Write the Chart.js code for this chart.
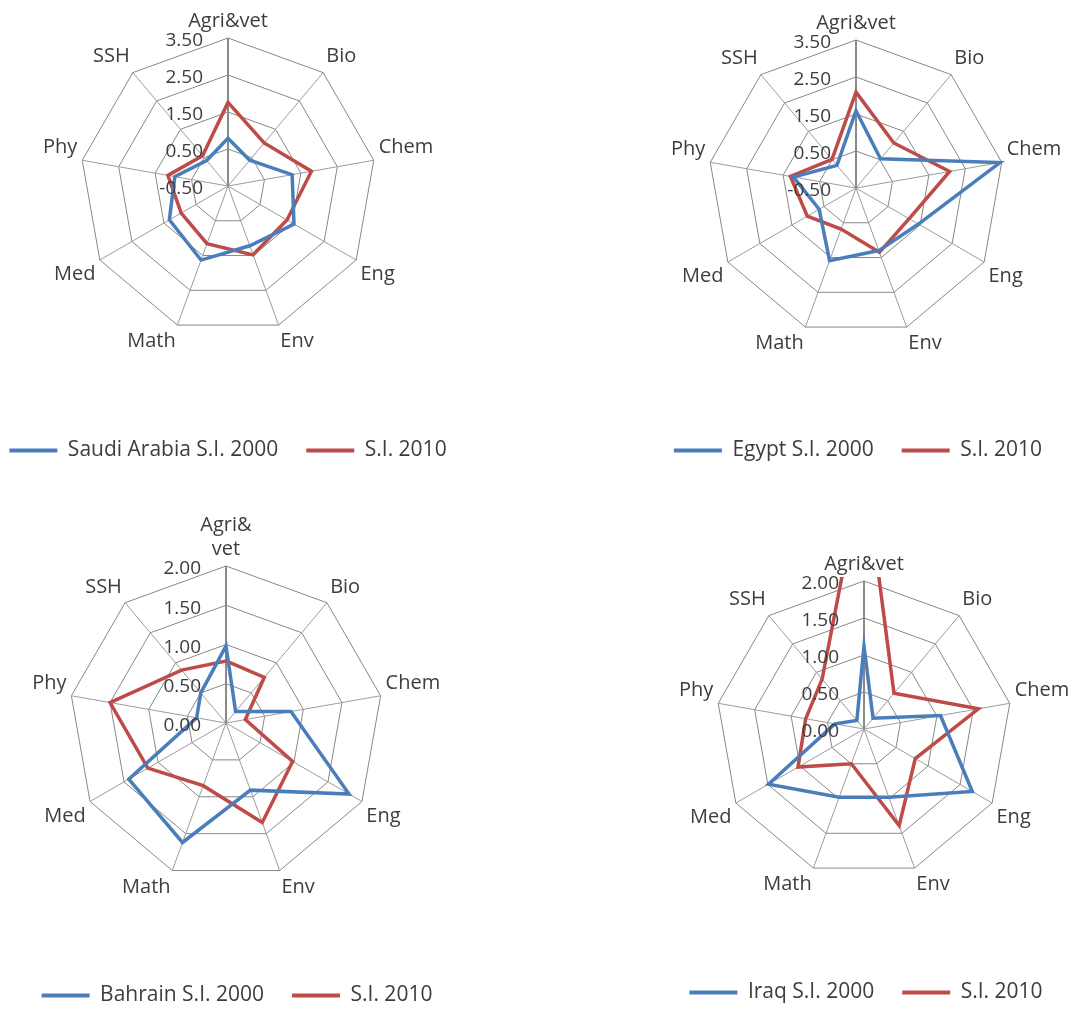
<!DOCTYPE html>
<html>
<head>
<meta charset="utf-8">
<script src="https://cdn.jsdelivr.net/npm/chart.js@4.4.1/dist/chart.umd.min.js"></script>
<style>
  html, body { margin: 0; padding: 0; background: #ffffff; width: 1074px; height: 1009px; overflow: hidden; }
  canvas { position: absolute; }
</style>
</head>
<body>
<canvas id="saudi" width="520" height="471" style="left:-32px;top:0px"></canvas>
<canvas id="egypt" width="460" height="471" style="left:628px;top:0px"></canvas>
<canvas id="bahrain" width="474" height="536" style="left:0px;top:480px"></canvas>
<canvas id="iraq" width="460" height="533" style="left:636px;top:480px"></canvas>
<script>
// Subject areas, clockwise from the top spoke
const subjects = ['Agri&vet', 'Bio', 'Chem', 'Eng', 'Env', 'Math', 'Med', 'Phy', 'SSH'];
const subjectsWrapped = [['Agri&', 'vet'], 'Bio', 'Chem', 'Eng', 'Env', 'Math', 'Med', 'Phy', 'SSH'];

// Specialization index per subject area
const saudi2000 = [0.79, 0.41, 1.26, 1.56, 1.22, 1.63, 1.33, 0.96, 0.40];
const saudi2010 = [1.76, 1.02, 1.79, 1.34, 1.48, 1.16, 0.96, 1.15, 0.57];

const egypt2000 = [1.59, 0.53, 3.45, 1.45, 1.30, 1.59, 0.65, 1.22, 0.30];
const egypt2010 = [2.09, 1.09, 2.07, 1.16, 1.35, 0.68, 1.02, 1.30, 0.51];

const bahrain2000 = [0.98, 0.19, 0.84, 1.81, 0.91, 1.62, 1.43, 0.38, 0.50];
const bahrain2010 = [0.79, 0.76, 0.25, 0.98, 1.35, 0.85, 1.15, 1.50, 0.88];

const iraq2000 = [1.12, 0.19, 1.05, 1.69, 0.98, 0.98, 1.49, 0.40, 0.15];
const iraq2010 = [3.60, 0.63, 1.57, 0.80, 1.39, 0.50, 1.03, 0.80, 0.88];

// Radial tick values
const ticksWide = [-0.5, 0.5, 1.5, 2.5, 3.5];
const ticksNarrow = [0, 0.5, 1, 1.5, 2];

const BLUE = '#4A7EBB';
const RED = '#BE4B48';
const TEXT = '#3d3d3d';

Chart.defaults.font.family = "'Open Sans', 'DejaVu Sans', sans-serif";

// Tick labels sit to the left of the top spoke, right-aligned, drawn over the series
const tickLabelPlugin = {
  id: 'tickLabels',
  afterDatasetsDraw(chart) {
    const s = chart.scales.r;
    const ctx = chart.ctx;
    ctx.save();
    ctx.font = "19px 'Open Sans', 'DejaVu Sans', sans-serif";
    ctx.fillStyle = TEXT;
    ctx.textAlign = 'right';
    ctx.textBaseline = 'middle';
    s.ticks.forEach(t => {
      const d = s.getDistanceFromCenterForValue(t.value);
      ctx.fillText(t.value.toFixed(2), s.xCenter - 25, s.yCenter - d + 3);
    });
    ctx.restore();
  }
};

// Series are cut off just above the outer ring
const ringClipPlugin = {
  id: 'ringClip',
  beforeDatasetsDraw(chart) {
    const s = chart.scales.r;
    const ctx = chart.ctx;
    ctx.save();
    ctx.beginPath();
    ctx.rect(0, s.yCenter - s.drawingArea - 4, chart.width, chart.height);
    ctx.clip();
  },
  afterDatasetsDraw(chart) {
    chart.ctx.restore();
  }
};

function makeRadar(id, labels, name2000, d2000, d2010, tickValues, padTop, titleGap) {
  return new Chart(document.getElementById(id), {
    type: 'radar',
    data: {
      labels: labels,
      datasets: [
        { label: name2000, data: d2000, borderColor: BLUE, backgroundColor: BLUE, fill: false },
        { label: 'S.I. 2010', data: d2010, borderColor: RED, backgroundColor: RED, fill: false }
      ]
    },
    options: {
      responsive: false,
      animation: false,
      layout: { padding: { top: padTop, left: 0, right: 0, bottom: 0 } },
      elements: {
        line: { borderWidth: 3.5, tension: 0, borderJoinStyle: 'miter' },
        point: { radius: 0, hoverRadius: 0, hitRadius: 0 }
      },
      scales: {
        r: {
          min: tickValues[0],
          max: tickValues[tickValues.length - 1],
          afterBuildTicks: s => { s.ticks = tickValues.map(v => ({ value: v })); },
          ticks: { display: false },
          grid: { circular: false, color: '#878787', lineWidth: 1 },
          angleLines: {
            color: c => (c.index === 0 ? '#8a8a8a' : '#9c9c9c'),
            lineWidth: c => (c.index === 0 ? 2 : 1)
          },
          pointLabels: { font: { size: 20 }, color: TEXT, padding: 5 }
        }
      },
      plugins: {
        tooltip: { enabled: false },
        legend: {
          position: 'bottom',
          title: { display: true, text: '', padding: { top: titleGap, bottom: 0 } },
          labels: {
            boxWidth: 48,
            boxHeight: 4,
            padding: 28,
            color: TEXT,
            font: { size: 21 },
            generateLabels(chart) {
              const items = Chart.defaults.plugins.legend.labels.generateLabels(chart);
              items.forEach(it => { it.lineWidth = 0; it.fillStyle = it.strokeStyle; });
              return items;
            }
          }
        }
      }
    },
    plugins: [ringClipPlugin, tickLabelPlugin]
  });
}

makeRadar('saudi', subjects, 'Saudi Arabia S.I. 2000', saudi2000, saudi2010, ticksWide, 4, 39.1);
makeRadar('egypt', subjects, 'Egypt S.I. 2000', egypt2000, egypt2010, ticksWide, 6, 37.1);
makeRadar('bahrain', subjectsWrapped, 'Bahrain S.I. 2000', bahrain2000, bahrain2010, ticksNarrow, 15, 27.1);
makeRadar('iraq', subjects, 'Iraq S.I. 2000', iraq2000, iraq2010, ticksNarrow, 67, 38.1);
</script>
</body>
</html>
